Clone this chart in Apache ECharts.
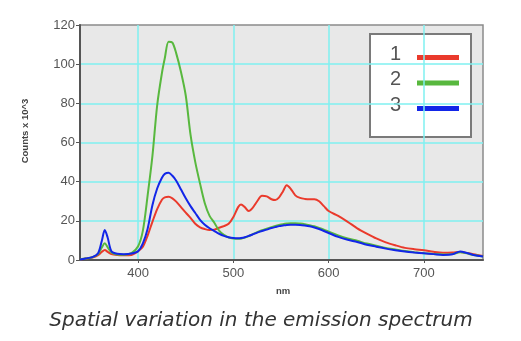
<!DOCTYPE html>
<html>
<head>
<meta charset="utf-8">
<script src="https://cdn.jsdelivr.net/npm/echarts@6/dist/echarts.min.js"></script>
<style>
  html, body { margin: 0; padding: 0; background: #ffffff; }
  #chart { width: 521px; height: 341px; }
</style>
</head>
<body>
<div id="chart"></div>
<script>
// Emission spectra (counts in thousands) sampled along wavelength in nm
const wavelengths = [339, 345, 352, 358, 362, 365, 368, 372, 378, 385, 393, 400, 405, 410, 415, 420, 425, 428, 432, 436, 440, 445, 450, 455, 460, 465, 470, 475, 480, 485, 490, 495, 500, 505, 508, 512, 516, 520, 525, 530, 535, 540, 544, 548, 552, 556, 560, 565, 570, 575, 580, 585, 590, 595, 600, 610, 620, 630, 640, 650, 660, 670, 680, 690, 700, 710, 720, 730, 738, 745, 752, 762];

const spectrum1 = [0.3, 0.8, 1.3, 2.5, 4.2, 5.1, 4.2, 3.0, 2.5, 2.4, 2.6, 4.5, 6.8, 12.5, 19.5, 26, 30.8, 32, 32.3, 31.5, 29.8, 27, 24.2, 21.5, 18.5, 16.7, 15.8, 15.3, 15.5, 16.5, 17.3, 18.5, 22, 27, 28.4, 27, 25, 26.5, 30, 32.8, 32.5, 31, 30.6, 32, 35, 38.2, 36.5, 33, 31.7, 31.2, 31, 31, 30, 27.5, 25, 22.5, 19.5, 16.2, 13.5, 11, 9, 7.5, 6.2, 5.5, 5.0, 4.2, 3.7, 3.8, 4.1, 3.6, 3.0, 2.0];

const spectrum2 = [0.3, 0.8, 1.4, 3, 6.5, 8.5, 6.5, 3.8, 2.8, 2.7, 3.5, 7, 15, 33, 53, 79, 95.5, 103, 111.5, 111, 105.5, 96, 84, 64, 50, 39, 29, 22.5, 19, 15, 12.8, 11.5, 11, 10.8, 10.9, 11.4, 12.2, 13.1, 14.2, 15.2, 16, 16.8, 17.4, 17.9, 18.3, 18.6, 18.8, 18.8, 18.6, 18.3, 17.8, 17.2, 16.4, 15.5, 14.5, 12.6, 11, 9.8, 8.4, 7.3, 6.2, 5.4, 4.6, 4.0, 3.5, 3.1, 2.8, 3.0, 3.9, 3.4, 2.5, 1.8];

const spectrum3 = [0.3, 0.8, 1.5, 3.5, 10, 15.3, 11.5, 4.5, 3.2, 3.0, 3.3, 4.5, 8.5, 16, 28, 36.5, 42, 44, 44.6, 43, 40.5, 36, 31.5, 27.5, 24, 20.5, 18, 16.2, 14.8, 13.4, 12.3, 11.6, 11.2, 11.1, 11.2, 11.6, 12.3, 13, 14, 14.8, 15.5, 16.3, 16.8, 17.3, 17.6, 17.9, 18, 18, 17.9, 17.6, 17.2, 16.6, 15.8, 14.8, 13.8, 11.8, 10.3, 9.2, 7.8, 6.8, 5.8, 5.0, 4.3, 3.8, 3.4, 3.0, 2.6, 2.9, 4.4, 3.6, 2.6, 1.8];

const seriesNames = ['1', '2', '3'];
const seriesColors = ['#ea3a2c', '#58b83e', '#1226e8'];
const xTickValues = [400, 500, 600, 700];

const pairs = vals => wavelengths.map((w, i) => [w, vals[i]]);
const allSpectra = [spectrum1, spectrum2, spectrum3];

const chart = echarts.init(document.getElementById('chart'), null, { renderer: 'canvas' });

const legendLeft = 370, legendTop = 34;
const legendItems = [];
seriesNames.forEach((name, i) => {
  legendItems.push({
    type: 'text',
    left: legendLeft + 20,
    top: legendTop + 10 + i * 25.5,
    style: { text: name, fill: '#555', font: '20px "Liberation Sans", Arial, sans-serif' }
  });
  legendItems.push({
    type: 'rect',
    shape: { x: legendLeft + 47, y: legendTop + 21 + i * 25.5, width: 42, height: 5 },
    style: { fill: seriesColors[i] }
  });
});

chart.setOption({
  animation: false,
  backgroundColor: '#ffffff',
  grid: {
    left: 80, top: 25, right: 38, bottom: 81,
    show: true,
    backgroundColor: '#e8e8e8',
    borderColor: '#8a8a8a',
    borderWidth: 1.5
  },
  xAxis: {
    type: 'value',
    min: 339,
    max: 762,
    axisLine: { show: true, onZero: false, lineStyle: { color: '#555', width: 2 } },
    axisTick: { show: true, length: 3, customValues: xTickValues, lineStyle: { color: '#555' } },
    axisLabel: {
      customValues: xTickValues,
      color: '#555',
      fontSize: 13,
      fontFamily: '"Liberation Sans", Arial, sans-serif',
      margin: 7
    },
    splitLine: { show: true, showMinLine: true, showMaxLine: true, lineStyle: { color: '#7ff0f0', width: 1.5 } }
  },
  yAxis: {
    type: 'value',
    min: 0,
    max: 120,
    interval: 20,
    axisLine: { show: true, lineStyle: { color: '#555', width: 2 } },
    axisTick: { show: true, length: 4, lineStyle: { color: '#555' } },
    axisLabel: {
      color: '#555',
      fontSize: 13,
      fontFamily: '"Liberation Sans", Arial, sans-serif',
      margin: 5
    },
    splitLine: { show: true, showMinLine: false, showMaxLine: false, lineStyle: { color: '#7ff0f0', width: 1.5 } }
  },
  series: allSpectra.map((vals, i) => ({
    name: seriesNames[i],
    type: 'line',
    data: pairs(vals),
    smooth: 0.3,
    showSymbol: false,
    lineStyle: { color: seriesColors[i], width: 2 },
    itemStyle: { color: seriesColors[i] },
    z: 2 + i
  })),
  graphic: [
    {
      type: 'text',
      x: 25, y: 131,
      rotation: Math.PI / 2,
      style: {
        text: 'Counts x 10^3',
        fill: '#444',
        font: 'bold 9.5px "Liberation Sans", Arial, sans-serif',
        align: 'center',
        verticalAlign: 'middle'
      }
    },
    {
      type: 'text',
      x: 283, y: 291,
      style: {
        text: 'nm',
        fill: '#444',
        font: 'bold 9.5px "Liberation Sans", Arial, sans-serif',
        align: 'center',
        verticalAlign: 'middle'
      }
    },
    {
      type: 'text',
      x: 261, y: 321,
      style: {
        text: 'Spatial variation in the emission spectrum',
        fill: '#333',
        font: 'italic 20px "DejaVu Sans", sans-serif',
        align: 'center',
        verticalAlign: 'middle'
      }
    },
    {
      type: 'group',
      z: 100,
      children: [
        {
          type: 'rect',
          shape: { x: legendLeft, y: legendTop, width: 101, height: 103 },
          style: { fill: '#ffffff', stroke: '#7a7a7a', lineWidth: 2 }
        }
      ].concat(legendItems)
    }
  ]
});
</script>
</body>
</html>
